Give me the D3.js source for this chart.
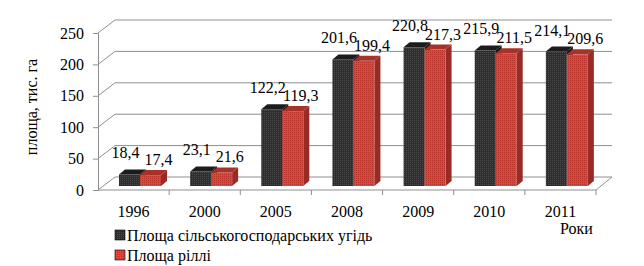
<!DOCTYPE html>
<meta charset="utf-8">
<style>
body { margin: 0; background: #fff; }
text { font-family: "Liberation Serif", "Times New Roman", serif; font-size: 16px; fill: #000; }
.wall { stroke: #8f8f8f; stroke-width: 1; fill: none; }
</style>
<body>
<script src="https://cdn.jsdelivr.net/npm/d3@7/dist/d3.min.js"></script>
<script>

// data
var years = ["1996", "2000", "2005", "2008", "2009", "2010", "2011"];
var agriLand = [18.4, 23.1, 122.2, 201.6, 220.8, 215.9, 214.1];
var arable = [17.4, 21.6, 119.3, 199.4, 217.3, 211.5, 209.6];
var yTicks = [0, 50, 100, 150, 200, 250];
var seriesNames = ["Площа сільськогосподарських угідь", "Площа ріллі"];

var width = 644, height = 266;
var pLeft = 98, pRight = 596, pBottom = 190, pTop = 33;
var depth = {x: 17, y: -13};   // back wall offset
var barShift = -4;             // bars sit a little back from the front
var bar3d = {x: 6, y: -5};     // bar thickness

var svg = d3.select("body").append("svg")
    .attr("width", width)
    .attr("height", height);

// patterns for the dotted look of the bars
var defs = svg.append("defs");
function dots(id, base, dot) {
  var p = defs.append("pattern").attr("id", id)
      .attr("width", 2).attr("height", 2)
      .attr("patternUnits", "userSpaceOnUse");
  p.append("rect").attr("width", 2).attr("height", 2).attr("fill", base);
  p.append("rect").attr("width", 1).attr("height", 1).attr("fill", dot);
}
dots("blk", "#2e2e2e", "#4a4a4a");
dots("red", "#e0463c", "#b93229");

var x = d3.scaleBand().domain(years).range([pLeft, pRight]);
var y = d3.scaleLinear().domain([0, 250]).range([pBottom, pTop]);

// back wall gridlines + left wall diagonals
yTicks.forEach(function(t) {
  svg.append("line").attr("class", "wall")
      .attr("x1", pLeft + depth.x).attr("x2", pRight + depth.x - 1)
      .attr("y1", y(t) + depth.y).attr("y2", y(t) + depth.y);
  svg.append("line").attr("class", "wall")
      .attr("x1", pLeft).attr("y1", y(t))
      .attr("x2", pLeft + depth.x).attr("y2", y(t) + depth.y);
});
// floor, right edge
svg.append("line").attr("class", "wall")
    .attr("x1", pRight).attr("y1", pBottom)
    .attr("x2", pRight + depth.x - 1).attr("y2", pBottom + depth.y);

// y axis
var yAxis = svg.append("g")
    .attr("transform", "translate(" + pLeft + ",0)")
    .call(d3.axisLeft(y).tickValues(yTicks).tickSize(5).tickPadding(9));
// x axis
var xAxis = svg.append("g")
    .attr("transform", "translate(0," + pBottom + ")")
    .call(d3.axisBottom(x).tickSize(0).tickPadding(16));
[yAxis, xAxis].forEach(function(a) {
  a.attr("font-family", null).attr("font-size", null);
  a.selectAll("path, line").attr("stroke", "#8f8f8f");
  a.selectAll("text").attr("fill", "#000");
});
xAxis.select("path").attr("d", "M" + pLeft + ",0H" + pRight);
// category ticks at band edges
svg.selectAll(".ctick").data(years)
  .enter().append("line")
    .attr("x1", function(d) { return x(d) + x.step(); })
    .attr("x2", function(d) { return x(d) + x.step(); })
    .attr("y1", pBottom).attr("y2", pBottom + 5)
    .attr("stroke", "#8f8f8f");

// bars
var bw = 21;
var series = [
  {vals: agriLand, fill: "url(#blk)", side: "#151515", topc: "#1c1c1c", off: 21},
  {vals: arable, fill: "url(#red)", side: "#9a2a25", topc: "#a8312a", off: 42}
];
var base = pBottom + barShift;
var yb = d3.scaleLinear().domain([0, 250]).range([base, base - (pBottom - pTop)]);

series.forEach(function(s) {
  var g = svg.append("g");
  years.forEach(function(yr, i) {
    var x0 = x(yr) + s.off, x1 = x0 + bw, yt = yb(s.vals[i]);
    // side
    g.append("path")
      .attr("d", "M" + x1 + "," + base + "L" + x1 + "," + yt +
        "L" + (x1 + bar3d.x) + "," + (yt + bar3d.y) +
        "L" + (x1 + bar3d.x) + "," + (base + bar3d.y) + "Z")
      .attr("fill", s.side);
    // top
    g.append("path")
      .attr("d", "M" + x0 + "," + yt + "L" + x1 + "," + yt +
        "L" + (x1 + bar3d.x) + "," + (yt + bar3d.y) +
        "L" + (x0 + bar3d.x) + "," + (yt + bar3d.y) + "Z")
      .attr("fill", s.topc);
    // front
    g.append("rect")
      .attr("x", x0).attr("y", yt)
      .attr("width", bw).attr("height", base - yt)
      .attr("fill", s.fill);
  });
});

// value labels
var fmt = function(v) { return d3.format(".1f")(v).replace(".", ","); };
series.forEach(function(s, si) {
  svg.selectAll(".lbl" + si).data(s.vals).enter().append("text")
      .attr("text-anchor", "middle")
      .attr("x", function(d, i) { return x(years[i]) + s.off + bw / 2 + (si ? 8 : -4); })
      .attr("y", function(d) { return yb(d) - (si ? 10 : 16); })
      .text(fmt);
});

// y title
svg.append("text")
    .attr("transform", "translate(37,107) rotate(-90)")
    .attr("text-anchor", "middle")
    .text("площа, тис. га");

// x title
svg.append("text").attr("x", 560).attr("y", 234).text("Роки");

// legend
var legendColors = ["url(#blk)", "url(#red)"];
var lg = svg.selectAll(".lg").data(seriesNames).enter().append("g")
    .attr("transform", function(d, i) { return "translate(115," + (230 + i * 20) + ")"; });
lg.append("rect").attr("width", 10).attr("height", 10)
    .attr("fill", function(d, i) { return legendColors[i]; })
    .attr("stroke", "#000").attr("stroke-width", 0.6);
lg.append("text").attr("x", 12).attr("y", 11).text(function(d) { return d; });

</script>
</body>
